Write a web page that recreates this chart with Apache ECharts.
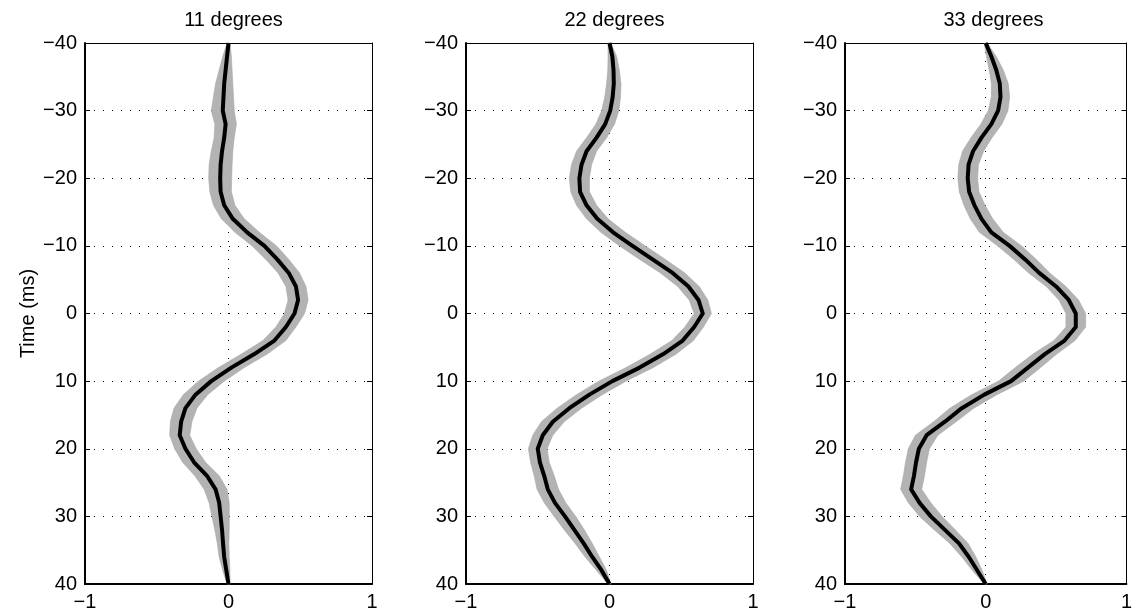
<!DOCTYPE html>
<html>
<head>
<meta charset="utf-8">
<title>degrees</title>
<script src="https://cdn.jsdelivr.net/npm/echarts@6/dist/echarts.min.js"></script>
<style>
    html, body {margin: 0; padding: 0; background: #fff;}
    #main {width: 1135px; height: 615px;}
</style>
</head>
<body>
<div id="main"></div>
<script>
// time samples (ms), every 2 ms
var times = [-40, -38, -36, -34, -32, -30, -28, -26, -24, -22, -20, -18, -16, -14, -12, -10, -8, -6, -4, -2,
    0, 2, 4, 6, 8, 10, 12, 14, 16, 18, 20, 22, 24, 26, 28, 30, 32, 34, 36, 38, 40];

var titles = ['11 degrees', '22 degrees', '33 degrees'];
var xTicks = [-1, 0, 1];
var yTicks = [-40, -30, -20, -10, 0, 10, 20, 30, 40];

// black mean curves
var mean11 = [0, -0.01, -0.02, -0.03, -0.035, -0.04, -0.02, -0.03, -0.045, -0.055, -0.058, -0.055, -0.03, 0.03, 0.13, 0.25,
    0.34, 0.42, 0.47, 0.485, 0.46, 0.40, 0.32, 0.18, 0.02, -0.12, -0.23, -0.30, -0.33, -0.34, -0.30, -0.24, -0.15, -0.09,
    -0.065, -0.055, -0.045, -0.038, -0.03, -0.015, 0];
var mean22 = [0, 0.02, 0.028, 0.03, 0.022, 0.005, -0.03, -0.09, -0.16, -0.195, -0.21, -0.205, -0.16, -0.085, 0.025, 0.16,
    0.30, 0.44, 0.55, 0.62, 0.65, 0.59, 0.51, 0.375, 0.21, 0.02, -0.14, -0.28, -0.395, -0.465, -0.50, -0.485, -0.455, -0.43,
    -0.38, -0.31, -0.245, -0.18, -0.12, -0.055, 0];
var mean33 = [0, 0.04, 0.075, 0.10, 0.105, 0.088, 0.04, -0.03, -0.09, -0.122, -0.128, -0.118, -0.08, -0.03, 0.04, 0.17,
    0.28, 0.38, 0.50, 0.59, 0.64, 0.64, 0.56, 0.42, 0.30, 0.18, -0.01, -0.17, -0.29, -0.42, -0.475, -0.495, -0.51, -0.53,
    -0.47, -0.39, -0.29, -0.19, -0.12, -0.06, 0];

// half width of the grey bundle of single traces
var spread11 = [0.01, 0.03, 0.045, 0.06, 0.07, 0.08, 0.075, 0.07, 0.075, 0.08, 0.08, 0.075, 0.075, 0.08, 0.085, 0.085,
    0.08, 0.075, 0.07, 0.07, 0.07, 0.07, 0.08, 0.09, 0.09, 0.09, 0.085, 0.08, 0.075, 0.07, 0.075, 0.08, 0.085, 0.08,
    0.07, 0.06, 0.05, 0.04, 0.035, 0.025, 0.01];
var spread22 = [0.01, 0.03, 0.04, 0.05, 0.055, 0.06, 0.065, 0.07, 0.07, 0.07, 0.07, 0.065, 0.07, 0.075, 0.085, 0.09,
    0.09, 0.085, 0.075, 0.065, 0.06, 0.065, 0.075, 0.09, 0.095, 0.095, 0.09, 0.085, 0.08, 0.07, 0.065, 0.065, 0.07, 0.075,
    0.075, 0.075, 0.07, 0.06, 0.05, 0.035, 0.01];
var spread33 = [0.01, 0.035, 0.05, 0.06, 0.065, 0.07, 0.075, 0.075, 0.075, 0.07, 0.07, 0.07, 0.075, 0.08, 0.085, 0.085,
    0.08, 0.075, 0.07, 0.07, 0.07, 0.07, 0.075, 0.085, 0.09, 0.09, 0.09, 0.085, 0.08, 0.08, 0.075, 0.075, 0.075, 0.075,
    0.08, 0.08, 0.075, 0.065, 0.05, 0.035, 0.01];

var means = [mean11, mean22, mean33];
var spreads = [spread11, spread22, spread33];

var panelLeft = [85, 466, 845];
var panelWidth = 287;
var panelTop = 43;
var panelHeight = 541;
var font = 'Liberation Sans, Arial, Helvetica, sans-serif';

function minus(v) {
    return String(v).replace('-', '\u2212');
}

var myChart = echarts.init(document.getElementById('main'));

var option = {
    backgroundColor: '#fff',
    animation: false,
    title: [],
    grid: [],
    xAxis: [],
    yAxis: [],
    series: []
};

for (var i = 0; i < 3; i++) {
    option.grid.push({left: panelLeft[i], top: panelTop, width: panelWidth, height: panelHeight});

    option.title.push({
        text: titles[i],
        left: panelLeft[i] + panelWidth / 2,
        top: 5,
        textAlign: 'center',
        textStyle: {fontFamily: font, fontSize: 20, fontWeight: 'normal', color: '#000'}
    });

    // bottom x axis with labels + dotted grid
    option.xAxis.push({
        type: 'value', gridIndex: i, position: 'bottom',
        min: xTicks[0], max: xTicks[xTicks.length - 1], interval: 1,
        axisLine: {show: true, onZero: false, lineStyle: {color: '#000', width: 2}},
        axisTick: {show: true, inside: true, length: 5, lineStyle: {color: '#000'}},
        axisLabel: {show: true, margin: 8, fontFamily: font, fontSize: 20, color: '#000', formatter: minus},
        splitLine: {show: true, lineStyle: {color: '#000', width: 1, type: [1, 8]}}
    });
    // top x axis (box)
    option.xAxis.push({
        type: 'value', gridIndex: i, position: 'top',
        min: xTicks[0], max: xTicks[xTicks.length - 1], interval: 1,
        axisLine: {show: true, onZero: false, lineStyle: {color: '#000', width: 1}},
        axisTick: {show: true, inside: true, length: 5, lineStyle: {color: '#000'}},
        axisLabel: {show: false},
        splitLine: {show: false}
    });
    // left y axis
    option.yAxis.push({
        type: 'value', gridIndex: i, position: 'left', inverse: true,
        min: yTicks[0], max: yTicks[yTicks.length - 1], interval: 10,
        name: i === 0 ? 'Time (ms)' : '',
        nameLocation: 'middle', nameGap: 47, nameRotate: 90,
        nameTextStyle: {fontFamily: font, fontSize: 20, color: '#000'},
        axisLine: {show: true, onZero: false, lineStyle: {color: '#000', width: 2}},
        axisTick: {show: true, inside: true, length: 5, lineStyle: {color: '#000'}},
        axisLabel: {show: true, margin: 8, fontFamily: font, fontSize: 20, color: '#000', formatter: minus},
        splitLine: {show: true, lineStyle: {color: '#000', width: 1, type: [1, 8]}}
    });
    // right y axis (box)
    option.yAxis.push({
        type: 'value', gridIndex: i, position: 'right', inverse: true,
        min: yTicks[0], max: yTicks[yTicks.length - 1], interval: 10,
        axisLine: {show: true, onZero: false, lineStyle: {color: '#000', width: 1}},
        axisTick: {show: true, inside: true, length: 5, lineStyle: {color: '#000'}},
        axisLabel: {show: false},
        splitLine: {show: false}
    });

    // grey bundle as a polygon: left edge down, right edge back up
    (function (mean, spread) {
        option.series.push({
            type: 'custom',
            xAxisIndex: i * 2,
            yAxisIndex: i * 2,
            data: [[0, 0]],
            silent: true,
            z: 2,
            renderItem: function (params, api) {
                var pts = [];
                for (var k = 0; k < times.length; k++) {
                    pts.push(api.coord([mean[k] - spread[k], times[k]]));
                }
                for (var k = times.length - 1; k >= 0; k--) {
                    pts.push(api.coord([mean[k] + spread[k], times[k]]));
                }
                return {
                    type: 'polygon',
                    shape: {points: pts},
                    style: {fill: '#b3b3b3', stroke: '#a8a8a8', lineWidth: 0.6}
                };
            }
        });
    })(means[i], spreads[i]);

    // black mean trace
    var line = [];
    for (var k = 0; k < times.length; k++) {
        line.push([means[i][k], times[k]]);
    }
    option.series.push({
        type: 'line',
        xAxisIndex: i * 2,
        yAxisIndex: i * 2,
        data: line,
        showSymbol: false,
        symbol: 'none',
        z: 3,
        lineStyle: {color: '#000', width: 4, join: 'round'}
    });
}

myChart.setOption(option);
</script>
</body>
</html>
